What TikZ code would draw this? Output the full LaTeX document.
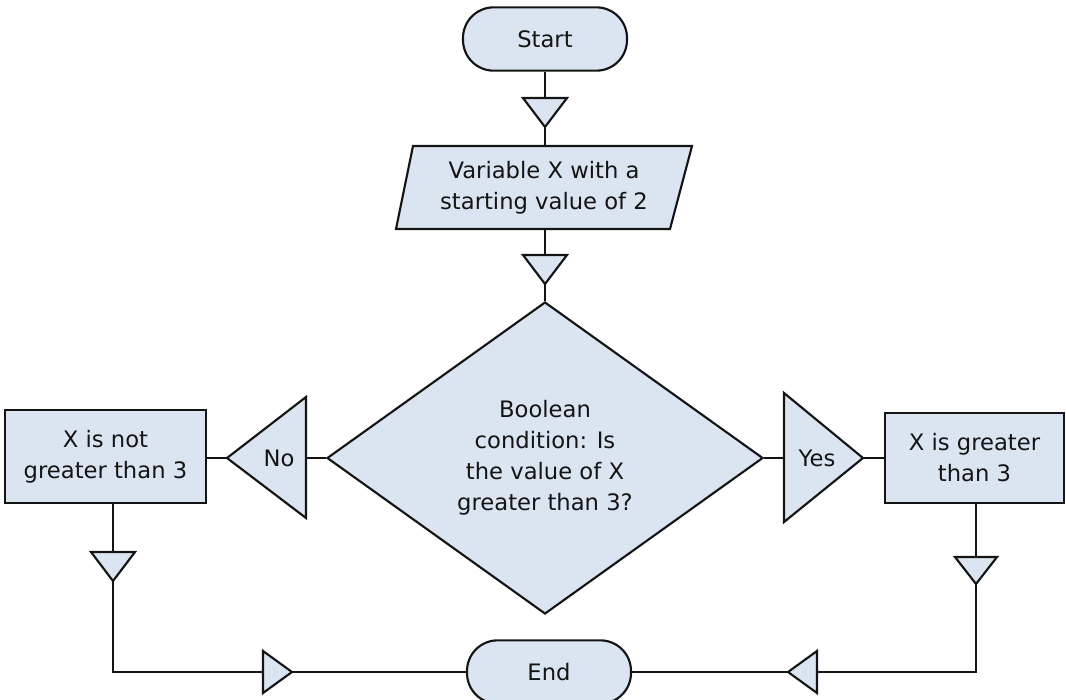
\documentclass[tikz,border=0pt]{standalone}
\usepackage{fontspec}
\setmainfont{DejaVu Sans}
\usetikzlibrary{shapes.geometric}
\definecolor{boxfill}{RGB}{219,229,241}
\definecolor{ink}{RGB}{20,20,20}
\begin{document}
\begin{tikzpicture}[x=0.75pt,y=-0.75pt,
  flowshape/.style={draw=ink, fill=boxfill, line width=1.6pt, line join=miter},
  lbl/.style={font=\fontsize{17}{23.25}\selectfont, align=center, text=ink, inner sep=0pt},
  pillbox/.style={flowshape, lbl, rectangle, rounded corners=23pt, minimum width=123pt, minimum height=47.5pt},
  procbox/.style={flowshape, lbl, rectangle},
  conn/.style={draw=ink, line width=1.6pt}]
\useasboundingbox (0,0) rectangle (1066,699);

% nodes
\node[pillbox] (start) at (545,39) {Start};
\filldraw[flowshape] (413,146) -- (692,146) -- (670,229) -- (396,229) -- cycle;
\coordinate (intop) at (545,146);
\coordinate (inbot) at (545,229);
\node[lbl] (input) at (544,188) {Variable X with a\\starting value of 2};
\node[flowshape, lbl, diamond, minimum width=327pt, minimum height=234pt, inner sep=0pt] (cond) at (545,458)
  {Boolean\\condition: Is\\the value of X\\greater than 3?};
\node[procbox, minimum width=150.75pt, minimum height=69.75pt] (notgt) at (105.5,456.5) {X is not\\greater than 3};
\node[procbox, minimum width=134.25pt, minimum height=67.5pt] (gt) at (974.5,458) {X is greater\\than 3};
\node[pillbox] (end) at (549,672) {End};

% flow markers (triangles)
\filldraw[flowshape] (523,98) -- (567,98) -- (545,127) -- cycle;
\coordinate (t1in) at (545,98); \coordinate (t1out) at (545,127);
\filldraw[flowshape] (523,255) -- (567,255) -- (545,284) -- cycle;
\coordinate (t2in) at (545,255); \coordinate (t2out) at (545,284);
\filldraw[flowshape] (306,397) -- (306,518) -- (227,458) -- cycle;
\coordinate (noin) at (306,458); \coordinate (noout) at (227,458);
\node[lbl] (nolbl) at (279,458) {No};
\filldraw[flowshape] (784,393) -- (784,522) -- (863,458) -- cycle;
\coordinate (yesin) at (784,458); \coordinate (yesout) at (863,458);
\node[lbl] (yeslbl) at (817,458) {Yes};
\filldraw[flowshape] (91,552) -- (135,552) -- (113,581) -- cycle;
\coordinate (lin) at (113,552); \coordinate (lout) at (113,581);
\filldraw[flowshape] (263,651) -- (263,693) -- (292,672) -- cycle;
\coordinate (lbin) at (263,672); \coordinate (lbout) at (292,672);
\filldraw[flowshape] (955,557) -- (997,557) -- (976,584) -- cycle;
\coordinate (rin) at (976,557); \coordinate (rout) at (976,584);
\filldraw[flowshape] (817,651) -- (817,693) -- (788,672) -- cycle;
\coordinate (rbin) at (817,672); \coordinate (rbout) at (788,672);

% connectors
\draw[conn] (start.south) -- (t1in);
\draw[conn] (t1out) -- (intop);
\draw[conn] (inbot) -- (t2in);
\draw[conn] (t2out) -- (cond.north);
\draw[conn] (cond.west) -- (noin);
\draw[conn] (noout) -- (noout -| notgt.east);
\draw[conn] (cond.east) -- (yesin);
\draw[conn] (yesout) -- (yesout -| gt.west);
\draw[conn] (notgt.south -| lin) -- (lin);
\draw[conn] (lout) |- (lbin);
\draw[conn] (lbout) -- (end.west);
\draw[conn] (gt.south -| rin) -- (rin);
\draw[conn] (rout) |- (rbin);
\draw[conn] (rbout) -- (end.east);
\end{tikzpicture}
\end{document}
